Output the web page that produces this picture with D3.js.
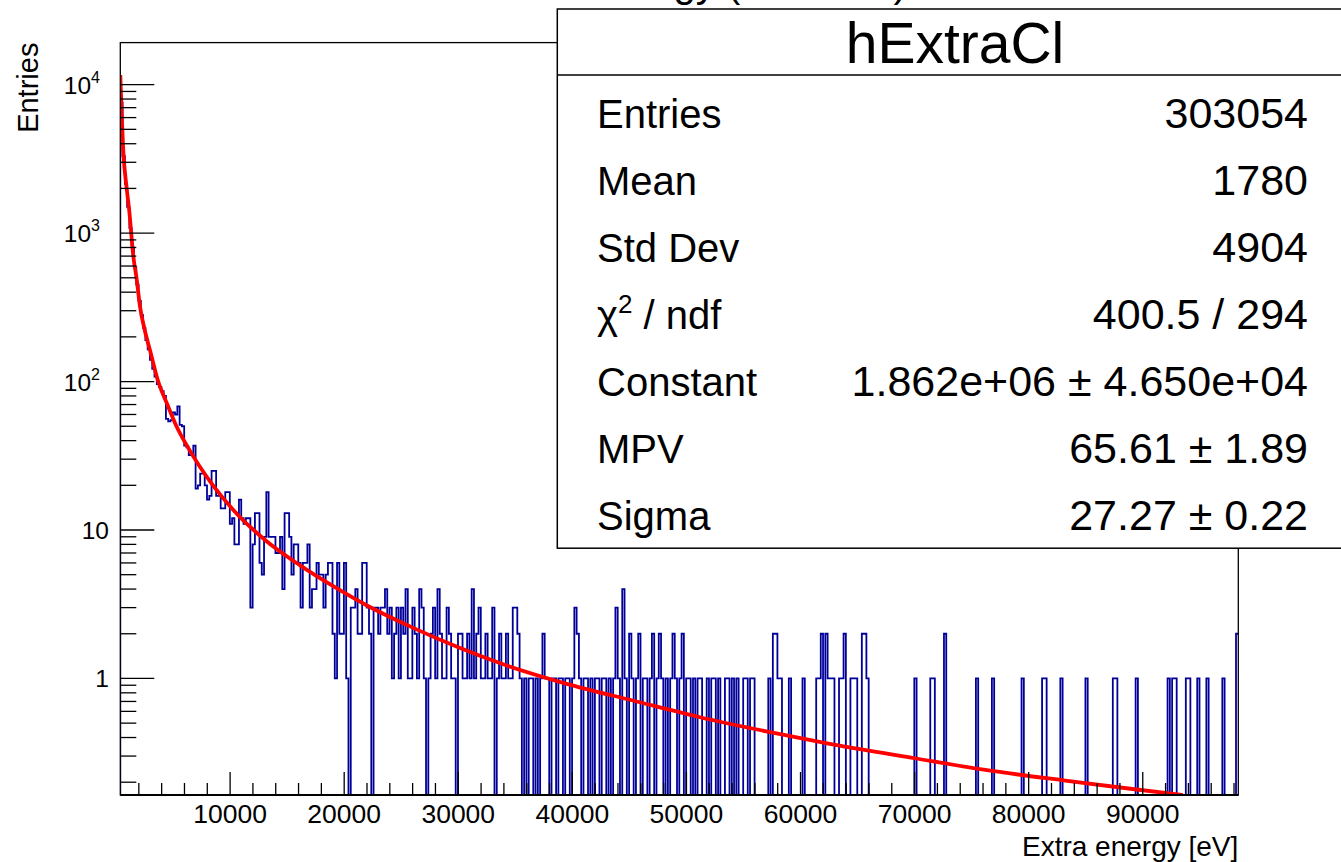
<!DOCTYPE html>
<html>
<head>
<meta charset="utf-8">
<script src="https://cdn.jsdelivr.net/npm/d3@7"></script>
<style>
  body { margin: 0; background: #fff; }
  text { font-family: "Liberation Sans", Arial, Helvetica, sans-serif; fill: #000; }
</style>
</head>
<body>
<svg id="chart" width="1341" height="862"></svg>
<script>
// histogram binning (eV)
const binLow = 375;
const binWidth = 200;

// bin contents
const countsA = [7600, 3300, 2150, 1500, 1080, 800, 590, 450, 350, 280,
  230, 190, 165, 140, 122, 108, 96, 92, 86, 80,
  56, 54, 55, 62, 60, 68, 51, 50, 37, 36,
  32, 32, 37, 19, 20, 24, 24, 20, 16, 17,
  25, 25, 17, 17, 14, 14, 18, 18, 11, 12,
  8, 8, 16, 12, 11, 12, 12, 3, 8, 13,
  13, 6, 5, 9, 18, 9, 9, 9, 7, 7,
  9, 4, 13, 13, 9, 5, 8, 8, 6, 3,
  6, 6, 8, 3, 4, 4, 6, 5, 5, 3,
  5, 6, 6, 2, 1, 6, 2, 2, 6, 1];
const countsB = [0, 3, 3, 4, 2, 2, 6, 6, 3, 2,
  0, 3, 3, 2, 3, 3, 4, 2, 3, 1,
  2, 3, 1, 3, 2, 4, 1, 1, 3, 2,
  1, 4, 3, 1, 0, 1, 2, 3, 1, 4,
  2, 1, 1, 3, 2, 1, 1, 0, 2, 2,
  1, 1, 2, 1, 4, 1, 2, 3, 1, 1,
  2, 1, 1, 3, 0, 1, 2, 1, 1, 2,
  1, 1, 3, 3, 2, 1, 0, 1, 0, 1,
  1, 0, 1, 0, 1, 2, 1, 1, 0, 1,
  1, 0, 1, 1, 0, 1, 1, 0, 1, 3];
const countsC = [2, 1, 0, 1, 1, 0, 1, 0, 1, 1,
  0, 1, 1, 0, 1, 0, 1, 3, 1, 0,
  4, 1, 0, 2, 1, 0, 1, 2, 0, 1,
  1, 0, 1, 2, 0, 1, 2, 1, 0, 1,
  0, 1, 2, 1, 0, 1, 2, 0, 1, 1,
  0, 1, 0, 1, 1, 0, 0, 1, 0, 1,
  1, 0, 1, 0, 0, 1, 1, 0, 1, 0,
  1, 0, 0, 1, 1, 0, 1, 1, 0, 0,
  0, 0, 0, 0, 1, 0, 2, 2, 1, 1,
  0, 0, 0, 1, 0, 0, 0, 0, 0, 1];
const countsD = [0, 0, 0, 0, 0, 1, 1, 2, 0, 2,
  1, 1, 1, 0, 0, 1, 1, 2, 0, 0,
  1, 1, 1, 0, 0, 2, 2, 1, 0, 0,
  0, 0, 0, 0, 0, 0, 0, 0, 0, 0,
  0, 0, 0, 0, 0, 0, 0, 0, 1, 0,
  0, 0, 0, 0, 0, 1, 1, 0, 0, 0,
  0, 2, 0, 0, 0, 0, 0, 0, 0, 0,
  0, 0, 0, 0, 0, 1, 0, 0, 0, 0,
  0, 0, 1, 0, 0, 0, 0, 0, 0, 0,
  0, 0, 0, 0, 0, 1, 0, 0, 0, 0];
const countsE = [0, 0, 0, 0, 1, 1, 0, 0, 0, 0,
  0, 0, 1, 0, 0, 0, 0, 0, 0, 0,
  0, 0, 0, 1, 0, 0, 0, 0, 0, 0,
  0, 0, 0, 0, 0, 1, 1, 0, 0, 0,
  0, 0, 0, 0, 0, 1, 0, 0, 0, 0,
  0, 0, 0, 0, 0, 0, 0, 0, 0, 1,
  0, 1, 1, 0, 0, 0, 0, 1, 1, 0,
  0, 0, 1, 0, 0, 0, 1, 0, 0, 0,
  0, 0, 0, 1, 0, 0, 0, 0, 0, 2];
const counts = [...countsA, ...countsB, ...countsC, ...countsD, ...countsE];

// Landau fit curve
const fitX = [375, 640, 935, 1165, 1515, 1810, 2100, 2500, 3000, 3700, 4500, 5300, 6300,
  7350, 8500, 10300, 13200, 16100, 19000, 22000, 26000, 30000, 34000, 39500, 45300,
  51100, 57000, 62000, 70000, 76200, 83200, 89100, 93500];
const fitY = [11600, 3540, 2000, 1400, 700, 490, 320, 225, 160, 100, 70, 50, 36,
  26.7, 20, 13.6, 8.4, 5.8, 4.2, 3.1, 2.2, 1.62, 1.24, 0.92, 0.71,
  0.55, 0.44, 0.37, 0.29, 0.242, 0.205, 0.18, 0.164];

const xTicks = [10000, 20000, 30000, 40000, 50000, 60000, 70000, 80000, 90000];
const yMajor = [1, 10, 100, 1000, 10000];
const yLabels = [["1", ""], ["10", ""], ["10", "2"], ["10", "3"], ["10", "4"]];

const statsName = "hExtraCl";
const statsKeys = ["Entries", "Mean", "Std Dev", "chi2", "Constant", "MPV", "Sigma"];
const statsVals = ["303054", "1780", "4904", "400.5 / 294", "1.862e+06 \u00b1 4.650e+04",
  "65.61 \u00b1 1.89", "27.27 \u00b1 0.22"];

const frame = { left: 120.3, right: 1238.3, top: 42.6, bottom: 795 };

const svg = d3.select('#chart');

const x = d3.scaleLinear()
  .domain([binLow, binLow + binWidth * counts.length])
  .range([frame.left, frame.right]);
const y = d3.scaleLog()
  .domain([0.164, 19200])
  .range([frame.bottom, frame.top]);

svg.append('defs').append('clipPath').attr('id', 'clip')
  .append('rect')
    .attr('x', frame.left).attr('y', frame.top - 2)
    .attr('width', frame.right - frame.left).attr('height', frame.bottom - frame.top + 2);

// title, mostly off the top of the canvas
svg.append('text')
  .attr('x', 698).attr('y', -3.5)
  .attr('text-anchor', 'middle')
  .style('font-size', '40px')
  .text('Extra energy (hExtraCl)');

// histogram outline
const yv = c => c > 0 ? y(c) : frame.bottom + 2;
let d = `M${x(binLow)},${frame.bottom + 2}`;
counts.forEach((c, i) => {
  d += `V${yv(c)}H${x(binLow + (i + 1) * binWidth)}`;
});
svg.append('path')
  .attr('d', d)
  .attr('clip-path', 'url(#clip)')
  .style('fill', 'none')
  .style('stroke', '#000099')
  .style('stroke-width', 1.8);

// fit
const line = d3.line()
  .x((v, i) => x(fitX[i]))
  .y(v => y(v))
  .curve(d3.curveMonotoneX);
svg.append('path')
  .attr('d', line(fitY))
  .attr('clip-path', 'url(#clip)')
  .style('fill', 'none')
  .style('stroke', '#ff0000')
  .style('stroke-width', 3.8);

// frame
svg.append('rect')
  .attr('x', frame.left).attr('y', frame.top)
  .attr('width', frame.right - frame.left).attr('height', frame.bottom - frame.top)
  .style('fill', 'none').style('stroke', '#000').style('stroke-width', 1.3);
svg.append('line')
  .attr('x1', frame.left).attr('x2', frame.right)
  .attr('y1', frame.bottom).attr('y2', frame.bottom)
  .style('stroke', '#000').style('stroke-width', 2);

// x axis ticks
const xMinor = d3.range(2000, 98001, 2000);
const gx = svg.append('g');
xMinor.forEach(v => {
  const major = v % 10000 === 0;
  gx.append('line')
    .attr('x1', x(v)).attr('x2', x(v))
    .attr('y1', frame.bottom).attr('y2', frame.bottom - (major ? 23 : 12))
    .style('stroke', '#000').style('stroke-width', 1.3);
});
xTicks.forEach(v => {
  gx.append('text')
    .attr('x', x(v)).attr('y', 823)
    .attr('text-anchor', 'middle')
    .style('font-size', '26.5px')
    .text(v);
});
svg.append('text')
  .attr('x', frame.right).attr('y', 855.5)
  .attr('text-anchor', 'end')
  .style('font-size', '28px')
  .text('Extra energy [eV]');

// y axis ticks
const gy = svg.append('g');
const yMinor = [];
[0.1, 1, 10, 100, 1000, 10000].forEach(dec => {
  for (let k = 1; k <= 9; k++) yMinor.push(dec * k);
});
yMinor.filter(v => v >= y.domain()[0] && v <= y.domain()[1]).forEach(v => {
  const major = yMajor.includes(v);
  gy.append('line')
    .attr('x1', frame.left).attr('x2', frame.left + (major ? 34 : 16))
    .attr('y1', y(v)).attr('y2', y(v))
    .style('stroke', '#000').style('stroke-width', 1.3);
});
yMajor.forEach((v, i) => {
  const sup = yLabels[i][1];
  const t = gy.append('text')
    .attr('x', sup ? 100 : 109).attr('y', y(v) + 9)
    .attr('text-anchor', 'end')
    .style('font-size', '24.5px');
  t.append('tspan').text(yLabels[i][0]);
  if (sup) {
    t.append('tspan').attr('dy', -11).style('font-size', '16px').text(sup);
  }
});
svg.append('text')
  .attr('transform', `translate(38,${frame.top}) rotate(-90)`)
  .attr('text-anchor', 'end')
  .style('font-size', '29px')
  .text('Entries');

// stats box
const box = { left: 557.3, top: 9, width: 800, head: 66, row: 67.6 };
const gs = svg.append('g');
gs.append('rect')
  .attr('x', box.left).attr('y', box.top)
  .attr('width', box.width).attr('height', box.head + box.row * statsKeys.length)
  .style('fill', '#fff').style('stroke', '#000').style('stroke-width', 1.5);
gs.append('line')
  .attr('x1', box.left).attr('x2', box.left + box.width)
  .attr('y1', box.top + box.head).attr('y2', box.top + box.head)
  .style('stroke', '#000').style('stroke-width', 1.5);
gs.append('text')
  .attr('x', 955).attr('y', 63)
  .attr('text-anchor', 'middle')
  .style('font-size', '57px')
  .text(statsName);
statsKeys.forEach((k, i) => {
  const yy = 112.5 + 67.1 * i + 15;
  const t = gs.append('text')
    .attr('x', 597).attr('y', yy)
    .style('font-size', '40px');
  if (k === 'chi2') {
    t.append('tspan').text('\u03c7');
    t.append('tspan').attr('dy', -16).style('font-size', '26px').text('2');
    t.append('tspan').attr('dy', 16).text(' / ndf');
  } else {
    t.text(k);
  }
  gs.append('text')
    .attr('x', 1308).attr('y', yy)
    .attr('text-anchor', 'end')
    .style('font-size', '43px')
    .text(statsVals[i]);
});
</script>
</body>
</html>
